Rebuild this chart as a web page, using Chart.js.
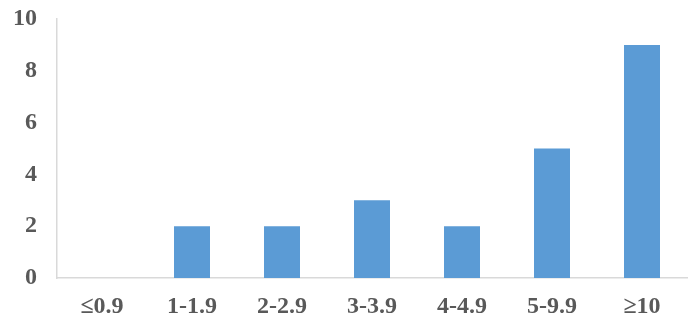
<!DOCTYPE html>
<html>
<head>
<meta charset="utf-8">
<script src="https://cdn.jsdelivr.net/npm/chart.js@4"></script>
<style>
  html, body { margin: 0; padding: 0; background: #fff; }
  #wrap { width: 688px; height: 320px; }
</style>
</head>
<body>
<div id="wrap"><canvas id="c"></canvas></div>
<script>
const categories = ['≤0.9', '1-1.9', '2-2.9', '3-3.9', '4-4.9', '5-9.9', '≥10'];
const counts = [0, 2, 2, 3, 2, 5, 9];
const yTicks = [0, 2, 4, 6, 8, 10];

const tickFont = { family: '"Liberation Serif", "Times New Roman", serif', size: 24, weight: 'bold' };

new Chart(document.getElementById('c'), {
  type: 'bar',
  data: {
    labels: categories,
    datasets: [{
      data: counts,
      backgroundColor: '#5B9BD5',
      borderWidth: 0,
      barPercentage: 0.4,
      categoryPercentage: 1.0
    }]
  },
  options: {
    responsive: true,
    maintainAspectRatio: false,
    animation: false,
    layout: { padding: { top: 19, right: 1, left: 0, bottom: 0 } },
    plugins: { legend: { display: false }, tooltip: { enabled: false } },
    scales: {
      x: {
        grid: { display: false, drawTicks: false },
        border: { display: true, color: '#D9D9D9', width: 1.5 },
        ticks: { color: '#595959', font: tickFont, padding: 14, maxRotation: 0 },
        afterFit: (s) => { s.height = 42; s.paddingLeft = 0; s.paddingRight = 0; }
      },
      y: {
        min: 0,
        max: 10,
        afterBuildTicks: (s) => { s.ticks = yTicks.map(v => ({ value: v })); },
        grid: { display: false, drawTicks: false },
        border: { display: true, color: '#D9D9D9', width: 1.5 },
        ticks: { color: '#595959', font: tickFont, padding: 20 },
        afterFit: (s) => { s.width = 57; s.paddingTop = 0; s.paddingBottom = 0; }
      }
    }
  }
});
</script>
</body>
</html>
